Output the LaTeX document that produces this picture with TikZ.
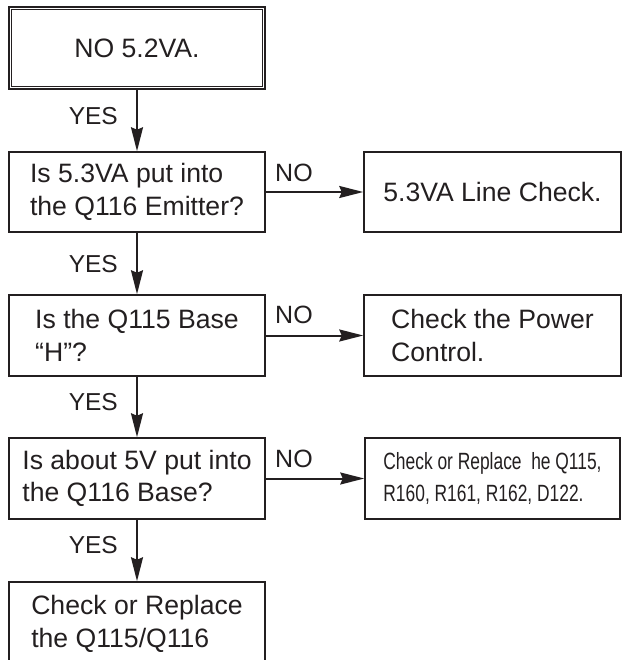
\documentclass[tikz,border=0pt]{standalone}
\usepackage{fontspec}
\setmainfont{Liberation Sans}
\newfontfamily\narrowfont[FakeStretch=0.74]{Liberation Sans}
\usetikzlibrary{arrows.meta}
\definecolor{ink}{RGB}{35,31,32}
\tikzset{
  box/.style={draw=ink, line width=1.5pt, minimum width=256pt, minimum height=80pt,
    inner sep=0pt, align=left, text=ink, font=\fontsize{26.6}{32.5}\selectfont},
  flow/.style={draw=ink, line width=2pt, -{Stealth[length=24pt,width=12pt,inset=2.5pt]}},
  yeslbl/.style={anchor=east, inner sep=0pt, text=ink, font=\fontsize{24.5}{30}\selectfont},
  nolbl/.style={anchor=base west, inner sep=0pt, text=ink, font=\fontsize{25}{30}\selectfont},
}
\begin{document}
\begin{tikzpicture}[x=1pt,y=-1pt]
\useasboundingbox (0,0) rectangle (626,660);
\fill[white] (0,0) rectangle (626,660);
\clip (0,0) rectangle (626,660);

% left column
\node[box, minimum height=82pt, line width=2pt] (b1) at (137,48) {NO 5.2VA.};
\draw[ink, line width=0.8pt] ([shift={(3.4,3.4)}]b1.north west) rectangle ([shift={(-3.4,-3.4)}]b1.south east);

\node[box] (b2) at (137,192) {Is 5.3VA put into\\the Q116 Emitter?};
\node[box, minimum height=81pt] (b3) at (137,335.5) {Is the Q115 Base\\“H”?};
\node[box, minimum height=81pt] (b4) at (137,478.5) {Is about 5V put into\\the Q116 Base?};
\node[box, minimum height=84pt] (b5) at (137,624) {Check or Replace\\the Q115/Q116};

% right column
\node[box, minimum width=257pt] (r2) at (492.5,192) {5.3VA Line Check.};
\node[box, minimum width=257pt, minimum height=81pt] (r3) at (492.5,335.5) {Check the Power\\Control.};
\node[box, minimum width=255pt, minimum height=81pt, font=\narrowfont\fontsize{23.5}{32}\selectfont] (r4) at (492.5,478.5) {Check or Replace\ \ he Q115,\\R160, R161, R162, D122.};

% YES arrows
\draw[flow] (b1.south) -- (b2.north);
\draw[flow] (b2.south) -- (b3.north);
\draw[flow] (b3.south) -- (b4.north);
\draw[flow] (b4.south) -- (b5.north);
\node[yeslbl] (y1) at (118,116) {YES};
\node[yeslbl] (y2) at (118,264.5) {YES};
\node[yeslbl] (y3) at (118,402) {YES};
\node[yeslbl] (y4) at (118,545.5) {YES};

% NO arrows
\draw[flow] (b2.east) -- (r2.west);
\draw[flow] (b3.east) -- (r3.west);
\draw[flow] (b4.east) -- (r4.west);
\node[nolbl] (n1) at (275,181.5) {NO};
\node[nolbl] (n2) at (275,323.5) {NO};
\node[nolbl] (n3) at (275,467.5) {NO};
\end{tikzpicture}
\end{document}
